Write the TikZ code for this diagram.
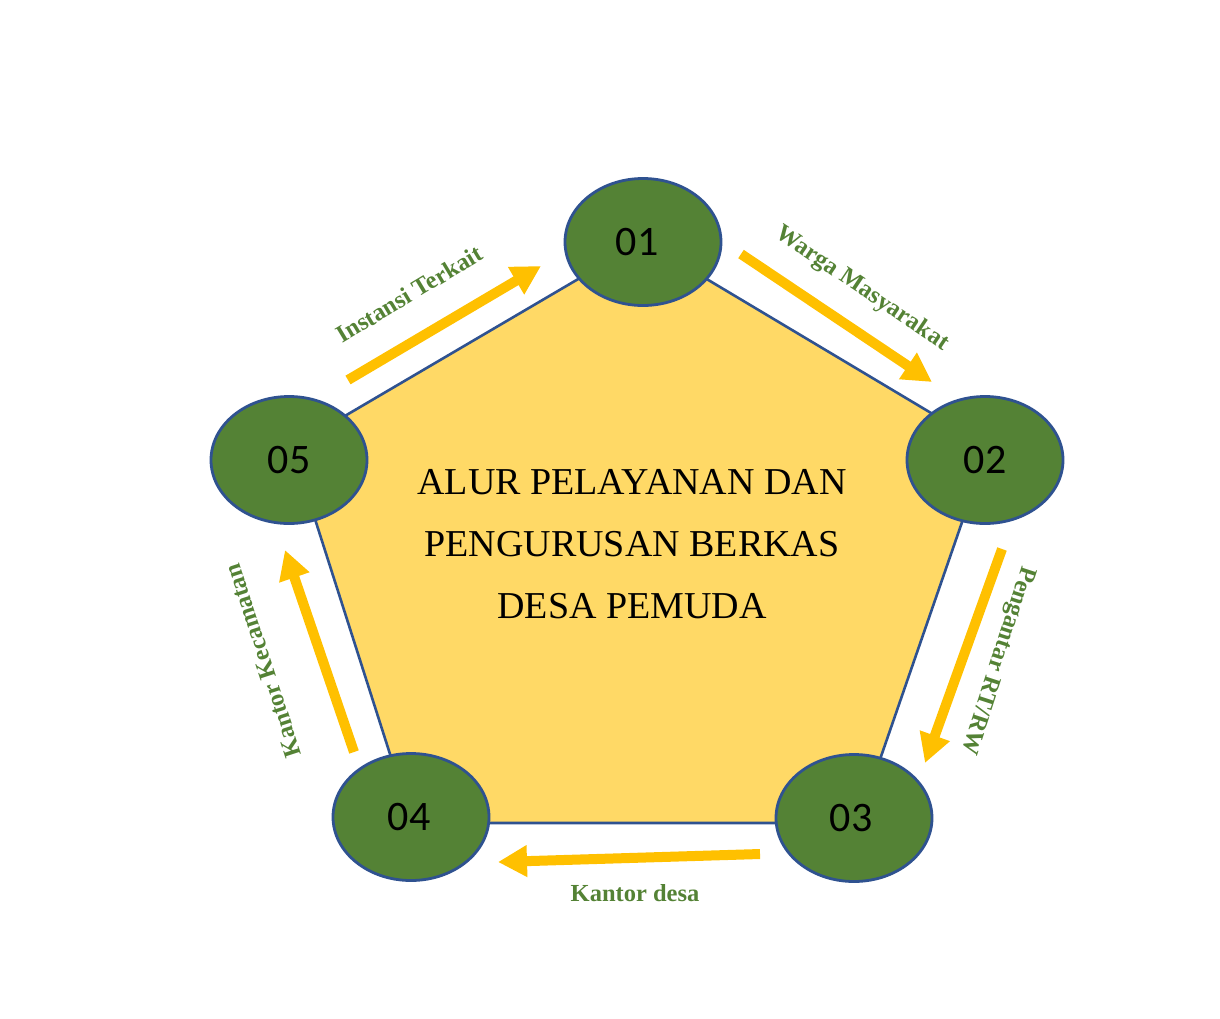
\documentclass[tikz,border=0pt]{standalone}
\usepackage{fontspec}
\setmainfont{Liberation Serif}
\newfontfamily\numfont{Carlito}
\usetikzlibrary{shapes.geometric,arrows.meta}
\definecolor{penfill}{HTML}{FFD966}
\definecolor{edgeblue}{HTML}{2F5290}
\definecolor{nodegreen}{HTML}{548235}
\definecolor{arrowyellow}{HTML}{FFC000}
\definecolor{labelgreen}{HTML}{548235}
\begin{document}
\begin{tikzpicture}[x=1pt,y=-1pt,
  stage/.style={ellipse, draw=edgeblue, line width=2.8pt, fill=nodegreen,
    minimum width=156pt, minimum height=127pt, inner sep=0pt,
    font=\numfont\fontsize{42}{48}\selectfont},
  flow/.style={draw=arrowyellow, line width=10pt,
    -{Triangle[length=29pt,width=30pt,fill=arrowyellow]}},
  flowlabel/.style={text=labelgreen, inner sep=0pt,
    font=\bfseries\fontsize{24.5}{28}\selectfont},
  title/.style={align=center, inner sep=0pt,
    font=\fontsize{38}{62}\selectfont}]
\useasboundingbox (0,0) rectangle (1220,1018);

% pentagon corners
\coordinate (p1) at (643,241);
\coordinate (p2) at (988,447);
\coordinate (p3) at (858,823);
\coordinate (p4) at (412,823);
\coordinate (p5) at (292,447);
\draw[fill=penfill, draw=edgeblue, line width=2.6pt, line join=miter]
  (p1) -- (p2) -- (p3) -- (p4) -- (p5) -- cycle;

% title
\node[title] (ttl) at (632,544) {ALUR PELAYANAN DAN\\PENGURUSAN BERKAS\\DESA PEMUDA};

% stages
\node[stage] (s1) at (643,242) {\hspace*{-12pt}01};
\node[stage] (s2) at (985,460) {02};
\node[stage] (s3) at (854,818) {\hspace*{-6pt}03};
\node[stage] (s4) at (411,817) {\hspace*{-4pt}04};
\node[stage] (s5) at (289,460) {05};

% arrow ends
\coordinate (a1t) at (348,380); \coordinate (a1h) at (541,266);
\coordinate (a2t) at (741,254); \coordinate (a2h) at (932,382);
\coordinate (a3t) at (1002,549); \coordinate (a3h) at (925,763);
\coordinate (a4t) at (760,854); \coordinate (a4h) at (498,862);
\coordinate (a5t) at (354,752); \coordinate (a5h) at (285,550);

\draw[flow] (a1t) -- (a1h);
\draw[flow] (a2t) -- (a2h);
\draw[flow] (a3t) -- (a3h);
\draw[flow] (a4t) -- (a4h);
\draw[flow] (a5t) -- (a5h);

% labels
\node[flowlabel, rotate=31] (l1) at (409,294) {Instansi Terkait};
\node[flowlabel, rotate=-34] (l2) at (862,289) {Warga Masyarakat};
\node[flowlabel, rotate=-108] (l3) at (997,660) {Pengantar RT/RW};
\node[flowlabel] (l4) at (635,893) {Kantor desa};
\node[flowlabel, rotate=108] (l5) at (263,661) {Kantor Kecamatan};
\end{tikzpicture}
\end{document}
